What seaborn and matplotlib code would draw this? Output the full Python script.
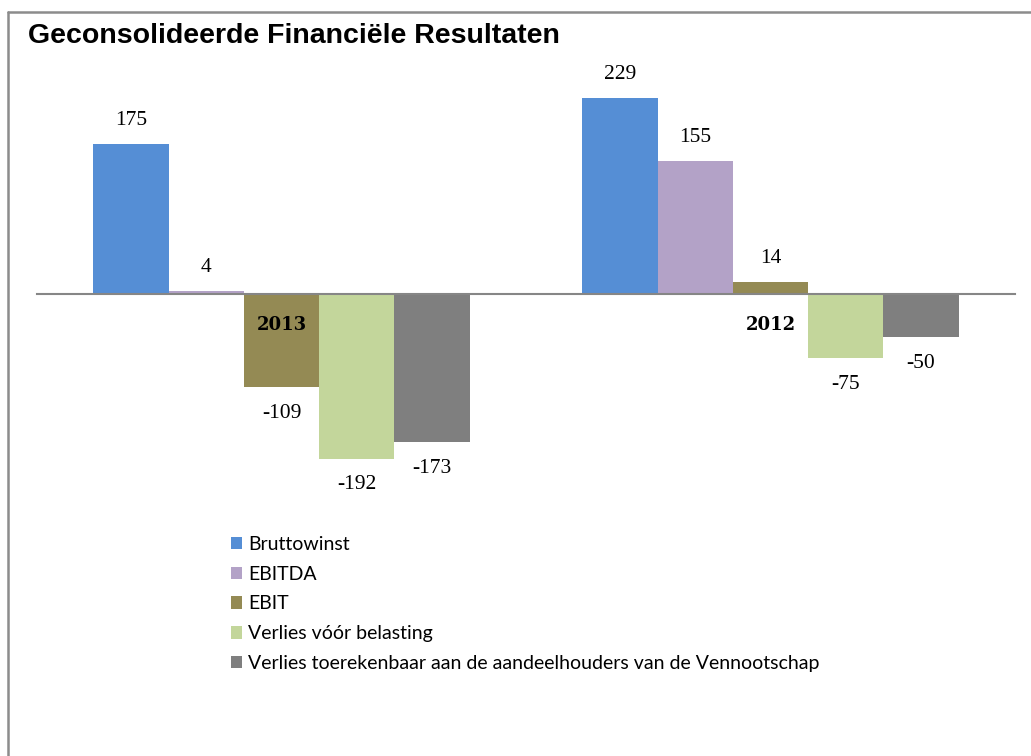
import matplotlib
matplotlib.use('Agg')
import matplotlib.pyplot as plt
from matplotlib.lines import Line2D
import pandas as pd
import seaborn as sns

# chart data
years = ['2013', '2012']
series = ['Bruttowinst', 'EBITDA', 'EBIT', 'Verlies vóór belasting',
          'Verlies toerekenbaar aan de aandeelhouders van de Vennootschap']
values_2013 = [175, 4, -109, -192, -173]
values_2012 = [229, 155, 14, -75, -50]
colors = ['#558ED5', '#B3A2C7', '#948A54', '#C3D69B', '#7F7F7F']

rows = []
for year, vals in zip(years, [values_2013, values_2012]):
    for s, v in zip(series, vals):
        rows.append({'Jaar': year, 'Post': s, 'Waarde': v})
df = pd.DataFrame(rows)

sns.set_style('white')
plt.rcParams['text.color'] = 'black'
plt.rcParams['xtick.color'] = 'black'
fig = plt.figure(figsize=(10.31, 7.56), dpi=100)
ax = fig.add_axes([37 / 1031, (756 - 480) / 756, 978 / 1031, 420 / 756])

sns.barplot(data=df, x='Jaar', y='Waarde', hue='Post', order=years,
            hue_order=series, palette=colors, saturation=1, width=0.77,
            linewidth=0, ax=ax, legend=True)

ax.set_xlim(-0.5, 1.5)
ax.set_ylim(-217, 273)
ax.set(xlabel='', ylabel='')
ax.set_yticks([])
ax.set_axisbelow(False)  # year labels sit on top of the bars

for side in ['top', 'right', 'left']:
    ax.spines[side].set_visible(False)
ax.spines['bottom'].set_position(('data', 0))
ax.spines['bottom'].set_color('#868686')
ax.spines['bottom'].set_linewidth(1.5)

# category labels just under the zero line, boundary ticks
ax.tick_params(axis='x', which='major', length=0, pad=16, labelcolor='black')
for lab in ax.get_xticklabels():
    lab.set_fontfamily('DejaVu Serif')
    lab.set_fontweight('bold')
    lab.set_fontsize(13)
ax.set_xticks([-0.5, 0.5, 1.5], minor=True)
ax.tick_params(axis='x', which='minor', length=5, width=1.5, color='#868686',
               direction='out')

# value labels
for cont in ax.containers:
    for bar, v in zip(cont, cont.datavalues):
        x = bar.get_x() + bar.get_width() / 2
        off = 10 if v >= 0 else -12
        ax.annotate(f'{v:.0f}', (x, v), xytext=(0, off), textcoords='offset points',
                    ha='center', va='bottom' if v >= 0 else 'top',
                    fontsize=15.5, family='Liberation Serif', color='black')

# legend below the plot
handles, labels = ax.get_legend_handles_labels()
ax.get_legend().remove()
fig.legend(handles, labels, loc='upper left', bbox_to_anchor=(223 / 1031, 1 - 528 / 756),
           frameon=False, prop={'family': 'Lato', 'size': 14},
           handlelength=0.6, handleheight=0.6, handletextpad=0.3,
           labelspacing=0.66, borderaxespad=0)

# title and outer frame
fig.text(28 / 1031, 1 - 36 / 756, 'Geconsolideerde Financiële Resultaten',
         ha='left', va='center', fontsize=20.5, fontweight='bold',
         family='Liberation Sans', color='black')
fig.add_artist(Line2D([8 / 1031, 1], [1 - 12 / 756, 1 - 12 / 756],
                      transform=fig.transFigure, color='#8c8c8c', lw=1.8))
fig.add_artist(Line2D([8 / 1031, 8 / 1031], [0, 1 - 12 / 756],
                      transform=fig.transFigure, color='#8c8c8c', lw=1.8))

fig.savefig('out.png', dpi=100)
